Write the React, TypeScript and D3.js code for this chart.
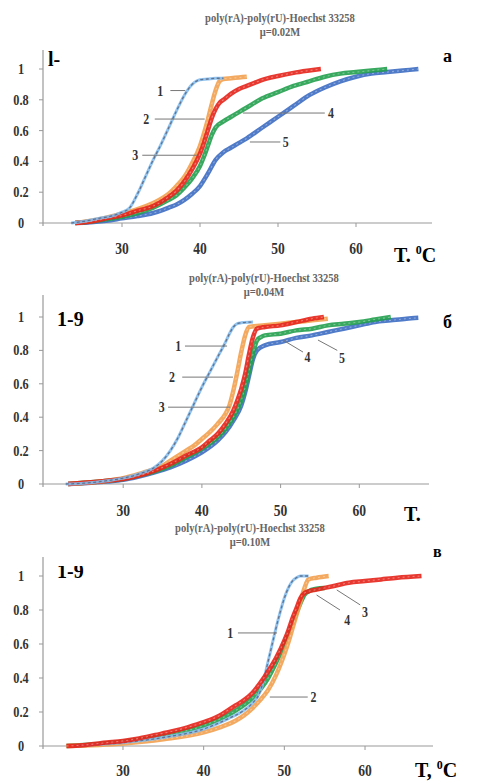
import * as d3 from "d3";

type Pt = [number, number];

// temperature ticks and fraction ticks shared by all three panels
const tempTicks = [30, 40, 50, 60];
const fracTicks = [0, 0.2, 0.4, 0.6, 0.8, 1];
const fracLabels = ["0", "0.2", "0.4", "0.6", "0.8", "1"];

const seriesColors: Record<string, string> = {
  "1": "#86bcec",
  "2": "#f2a04e",
  "3": "#e5231b",
  "4": "#22a04e",
  "5": "#3d6dc2",
};

const titleLine = "poly(rA)-poly(rU)-Hoechst 33258";
const ionicStrength = ["μ=0.02M", "μ=0.04M", "μ=0.10M"];

// panel а, μ = 0.02 M
const a1: Pt[] = [[23.5, 0], [25, 0.01], [27, 0.03], [29, 0.05], [30, 0.07], [31, 0.1], [32, 0.19], [33, 0.3], [34, 0.41], [35, 0.51], [36, 0.62], [37, 0.73], [38, 0.83], [38.5, 0.87], [39, 0.9], [39.5, 0.92], [40, 0.93], [41, 0.935], [42, 0.94], [43, 0.94]];
const a2: Pt[] = [[24, 0], [26, 0.015], [28, 0.035], [30, 0.06], [32, 0.09], [34, 0.13], [36, 0.19], [37, 0.24], [38, 0.3], [39, 0.39], [40, 0.5], [40.5, 0.58], [41, 0.67], [41.5, 0.77], [42, 0.86], [42.5, 0.92], [43, 0.935], [44, 0.94], [45, 0.945], [46, 0.95]];
const a3: Pt[] = [[24, 0], [26, 0.01], [28, 0.03], [30, 0.05], [32, 0.08], [34, 0.11], [36, 0.17], [37, 0.21], [38, 0.27], [39, 0.35], [40, 0.45], [40.5, 0.52], [41, 0.6], [41.5, 0.68], [42, 0.74], [42.5, 0.78], [43, 0.8], [44, 0.84], [45, 0.87], [46, 0.89], [47, 0.91], [48, 0.93], [50, 0.955], [52, 0.975], [54, 0.99], [55.5, 1.0]];
const a4: Pt[] = [[24, 0], [26, 0.01], [28, 0.025], [30, 0.04], [32, 0.065], [34, 0.1], [36, 0.15], [37, 0.18], [38, 0.23], [39, 0.29], [40, 0.37], [40.5, 0.43], [41, 0.5], [41.5, 0.57], [42, 0.62], [43, 0.66], [44, 0.69], [45, 0.72], [46, 0.75], [48, 0.81], [50, 0.85], [52, 0.89], [54, 0.92], [56, 0.95], [58, 0.97], [60, 0.98], [62, 0.99], [64, 1.0]];
const a5: Pt[] = [[24, 0], [26, 0.005], [28, 0.015], [30, 0.03], [32, 0.045], [34, 0.065], [35, 0.08], [36, 0.1], [37, 0.12], [38, 0.15], [39, 0.19], [40, 0.24], [41, 0.32], [42, 0.41], [43, 0.46], [44, 0.49], [45, 0.52], [46, 0.55], [48, 0.62], [50, 0.69], [52, 0.76], [54, 0.83], [56, 0.88], [58, 0.92], [60, 0.95], [62, 0.97], [64, 0.98], [66, 0.99], [68, 1.0]];

// panel б, μ = 0.04 M
const b1: Pt[] = [[22.7, 0], [25, 0.005], [28, 0.02], [30, 0.035], [32, 0.06], [34, 0.1], [35, 0.14], [36, 0.2], [37, 0.28], [38, 0.38], [39, 0.48], [40, 0.58], [41, 0.67], [42, 0.76], [43, 0.85], [43.5, 0.9], [44, 0.94], [44.5, 0.96], [45, 0.965], [46.5, 0.97]];
const b2: Pt[] = [[23, 0], [28, 0.02], [30, 0.035], [32, 0.06], [34, 0.09], [35, 0.11], [36, 0.14], [37, 0.17], [38, 0.2], [39, 0.23], [40, 0.27], [41, 0.31], [42, 0.36], [43, 0.42], [43.5, 0.47], [44, 0.56], [44.5, 0.67], [45, 0.79], [45.5, 0.89], [46, 0.94], [48, 0.95], [50, 0.96], [52, 0.97], [54, 0.98], [56, 0.99]];
const b3: Pt[] = [[23, 0], [28, 0.02], [30, 0.03], [32, 0.05], [34, 0.08], [36, 0.12], [38, 0.17], [40, 0.22], [41, 0.26], [42, 0.3], [43, 0.36], [44, 0.44], [44.5, 0.5], [45, 0.57], [45.5, 0.66], [46, 0.78], [46.5, 0.88], [47, 0.93], [48, 0.94], [50, 0.95], [52, 0.97], [54, 0.99], [55.5, 1.0]];
const b4: Pt[] = [[23, 0], [28, 0.02], [30, 0.03], [32, 0.05], [34, 0.075], [36, 0.11], [38, 0.16], [40, 0.21], [42, 0.28], [43, 0.33], [44, 0.4], [45, 0.5], [45.5, 0.58], [46, 0.68], [46.5, 0.78], [47, 0.86], [47.5, 0.88], [48, 0.89], [50, 0.9], [52, 0.92], [54, 0.93], [56, 0.95], [58, 0.96], [60, 0.97], [62, 0.985], [64, 1.0]];
const b5: Pt[] = [[23, 0], [28, 0.015], [30, 0.025], [32, 0.045], [34, 0.07], [36, 0.1], [38, 0.14], [40, 0.19], [42, 0.26], [43, 0.31], [44, 0.38], [45, 0.47], [45.5, 0.55], [46, 0.65], [46.5, 0.75], [47, 0.8], [48, 0.83], [50, 0.85], [52, 0.875], [54, 0.89], [56, 0.91], [58, 0.93], [60, 0.95], [62, 0.97], [64, 0.98], [66, 0.99], [67.5, 0.995]];

// panel в, μ = 0.10 M
const c1: Pt[] = [[24, 0], [30, 0.02], [35, 0.05], [40, 0.1], [43, 0.16], [45, 0.21], [46, 0.25], [47, 0.32], [47.5, 0.4], [48, 0.5], [48.5, 0.6], [49, 0.7], [49.5, 0.79], [50, 0.87], [50.5, 0.93], [51, 0.97], [51.5, 0.99], [52, 1.0], [53, 1.0]];
const c2: Pt[] = [[23, 0], [30, 0.015], [35, 0.04], [40, 0.08], [42, 0.11], [44, 0.15], [45, 0.18], [46, 0.22], [47, 0.27], [48, 0.33], [49, 0.42], [50, 0.54], [50.5, 0.61], [51, 0.69], [51.5, 0.77], [52, 0.85], [52.5, 0.93], [53, 0.98], [54, 0.99], [55.5, 1.0]];
const c3: Pt[] = [[23, 0], [25, 0.005], [28, 0.02], [30, 0.03], [32, 0.045], [34, 0.065], [36, 0.085], [38, 0.11], [40, 0.14], [42, 0.18], [43, 0.21], [44, 0.24], [45, 0.27], [46, 0.31], [47, 0.37], [48, 0.44], [49, 0.52], [50, 0.62], [50.5, 0.68], [51, 0.75], [51.5, 0.81], [52, 0.87], [52.5, 0.9], [53, 0.91], [54, 0.92], [56, 0.94], [58, 0.96], [60, 0.97], [62, 0.98], [64, 0.99], [67, 1.0]];
const c4: Pt[] = [[23, 0], [30, 0.025], [35, 0.06], [40, 0.12], [44, 0.21], [46, 0.28], [48, 0.4], [50, 0.6], [51, 0.72], [52, 0.84], [52.5, 0.89], [53, 0.91], [54, 0.925], [55, 0.93]];

// leader lines for the curve numbers, in data units: [label, T1, v1, T2, v2, textT, textV]
type Lead = [string, number, number, number, number, number, number];
const leadsA: Lead[] = [
  ["1", 36.2, 0.86, 38.1, 0.86, 34.9, 0.86],
  ["2", 34.2, 0.675, 40.6, 0.675, 33.1, 0.675],
  ["3", 32.6, 0.44, 39.6, 0.44, 31.7, 0.44],
  ["4", 45.5, 0.714, 56, 0.714, 56.8, 0.714],
  ["5", 46.4, 0.526, 50.3, 0.526, 51, 0.526],
];
const leadsB: Lead[] = [
  ["1", 37.85, 0.826, 43.2, 0.826, 37.0, 0.826],
  ["2", 37.5, 0.64, 43.95, 0.64, 36.2, 0.64],
  ["3", 35.7, 0.46, 43.6, 0.46, 34.9, 0.46],
  ["4", 50.3, 0.862, 52.85, 0.79, 53.4, 0.76],
  ["5", 54.75, 0.862, 57.2, 0.8, 57.8, 0.755],
];
const leadsC: Lead[] = [
  ["1", 44.25, 0.665, 49.1, 0.665, 43.3, 0.665],
  ["2", 48.2, 0.288, 52.9, 0.288, 53.6, 0.288],
  ["3", 56.5, 0.918, 59.4, 0.83, 60.0, 0.79],
  ["4", 54, 0.888, 56.9, 0.8, 57.8, 0.74],
];

type PanelSpec = {
  series: [string, Pt[]][];
  leads: Lead[];
  mu: string;
  xRange: [number, number];
  yRange: [number, number];
  axisEnd: number;
  yTop: number;
  titleX: number;
  titleY: number;
  tickLabelY: number;
};

const panels: PanelSpec[] = [
  { series: [["5", a5], ["4", a4], ["2", a2], ["3", a3], ["1", a1]], leads: leadsA, mu: ionicStrength[0],
    xRange: [44, 434], yRange: [223, 69], axisEnd: 432, yTop: 50, titleX: 280, titleY: 22, tickLabelY: 254 },
  { series: [["5", b5], ["4", b4], ["2", b2], ["3", b3], ["1", b1]], leads: leadsB, mu: ionicStrength[1],
    xRange: [44.5, 438], yRange: [484, 317], axisEnd: 429, yTop: 295, titleX: 264, titleY: 282, tickLabelY: 516 },
  { series: [["4", c4], ["2", c2], ["1", c1], ["3", c3]], leads: leadsC, mu: ionicStrength[2],
    xRange: [42.3, 445.7], yRange: [746, 576], axisEnd: 433, yTop: 557, titleX: 250, titleY: 532, tickLabelY: 776 },
];

const serif = "'Liberation Serif', 'Times New Roman', serif";

// narrow, tall bold labels like the scanned figure
function Label({ x, y, size, sx, children }: { x: number; y: number; size: number; sx: number; children: any }) {
  return (
    <text transform={`translate(${x},${y}) scale(${sx},1)`} textAnchor="middle" fontFamily={serif} fontWeight="bold" fontSize={size} fill="#333">{children}</text>
  );
}

function Panel({ p }: { p: PanelSpec }) {
  const x = d3.scaleLinear().domain([20, 70]).range(p.xRange);
  const y = d3.scaleLinear().domain([0, 1]).range(p.yRange);
  const line = d3.line<Pt>().x(d => x(d[0])).y(d => y(d[1])).curve(d3.curveMonotoneX);
  const axisX = 43;
  const y0 = y(0);

  return (
    <g>
      <g transform={`translate(${p.titleX},0) scale(0.88,1)`}>
        <text x={0} y={p.titleY} textAnchor="middle" fontFamily={serif} fontWeight="bold" fontSize={12} fill="#666">{titleLine}</text>
        <text x={0} y={p.titleY + 14} textAnchor="middle" fontFamily={serif} fontWeight="bold" fontSize={12} fill="#666">{p.mu}</text>
      </g>

      {/* axes */}
      <line x1={axisX} x2={axisX} y1={p.yTop} y2={y0 + 3} stroke="#999" strokeWidth={1.2} />
      <line x1={axisX} x2={p.axisEnd} y1={y0} y2={y0} stroke="#999" strokeWidth={1.2} />
      {fracTicks.map((t, i) => (
        <g key={t}>
          <line x1={axisX - 4} x2={axisX} y1={y(t)} y2={y(t)} stroke="#999" />
          <Label x={21} y={y(t) + 5} size={14.5} sx={0.85}>{fracLabels[i]}</Label>
        </g>
      ))}
      {tempTicks.map(t => (
        <g key={t}>
          <line x1={x(t)} x2={x(t)} y1={y0} y2={y0 + 4} stroke="#999" />
          <Label x={x(t)} y={p.tickLabelY} size={17} sx={0.8}>{t}</Label>
        </g>
      ))}

      {/* melting curves */}
      {p.series.map(([name, pts]) => {
        const d = line(pts) || "";
        if (name === "1") {
          return (
            <g key={name}>
              <path d={d} fill="none" stroke={seriesColors[name]} strokeWidth={3} opacity={0.9} />
              <path d={d} fill="none" stroke="#5f7390" strokeWidth={1.3} strokeDasharray="3 2.5" />
            </g>
          );
        }
        return (
          <g key={name}>
            <path d={d} fill="none" stroke={seriesColors[name]} strokeWidth={4.5} opacity={0.9} />
            <path d={d} fill="none" stroke="#fff" strokeOpacity={0.35} strokeWidth={1.1} strokeDasharray="2 3" />
          </g>
        );
      })}

      {/* curve numbers with leader lines */}
      {p.leads.map(([label, t1, v1, t2, v2, tt, tv]) => (
        <g key={label}>
          <line x1={x(t1)} y1={y(v1)} x2={x(t2)} y2={y(v2)} stroke="#777" strokeWidth={1} />
          <Label x={x(tt)} y={y(tv) + 5} size={14} sx={0.85}>{label}</Label>
        </g>
      ))}
    </g>
  );
}

export default function App() {
  return (
    <svg width={479} height={784} style={{ position: "absolute", left: 0, top: 0, background: "#fff" }}>
      <defs>
        <clipPath id="clipC">
          <rect x={0} y={566} width={479} height={40} />
        </clipPath>
      </defs>
      {panels.map((p, i) => <Panel key={i} p={p} />)}

      {/* panel letters and axis captions */}
      <g fontFamily={serif} fontWeight="bold" fill="#000">
        <text x={48} y={66} fontSize={20}>l-</text>
        <text x={443} y={62} fontSize={18}>а</text>
        <text x={394} y={262} fontSize={20}>T. <tspan fontSize={12} dy={-8}>0</tspan><tspan dy={8}>C</tspan></text>

        <text x={57} y={326} fontSize={20}>1-9</text>
        <text x={443} y={328} fontSize={18}>б</text>
        <text x={404} y={521} fontSize={20}>T.</text>

        <text x={57} y={578} fontSize={20} clipPath="url(#clipC)">1-9</text>
        <text x={433} y={557} fontSize={16}>в</text>
        <text x={415} y={777} fontSize={20}>T, <tspan fontSize={12} dy={-8}>0</tspan><tspan dy={8}>C</tspan></text>
      </g>
    </svg>
  );
}
